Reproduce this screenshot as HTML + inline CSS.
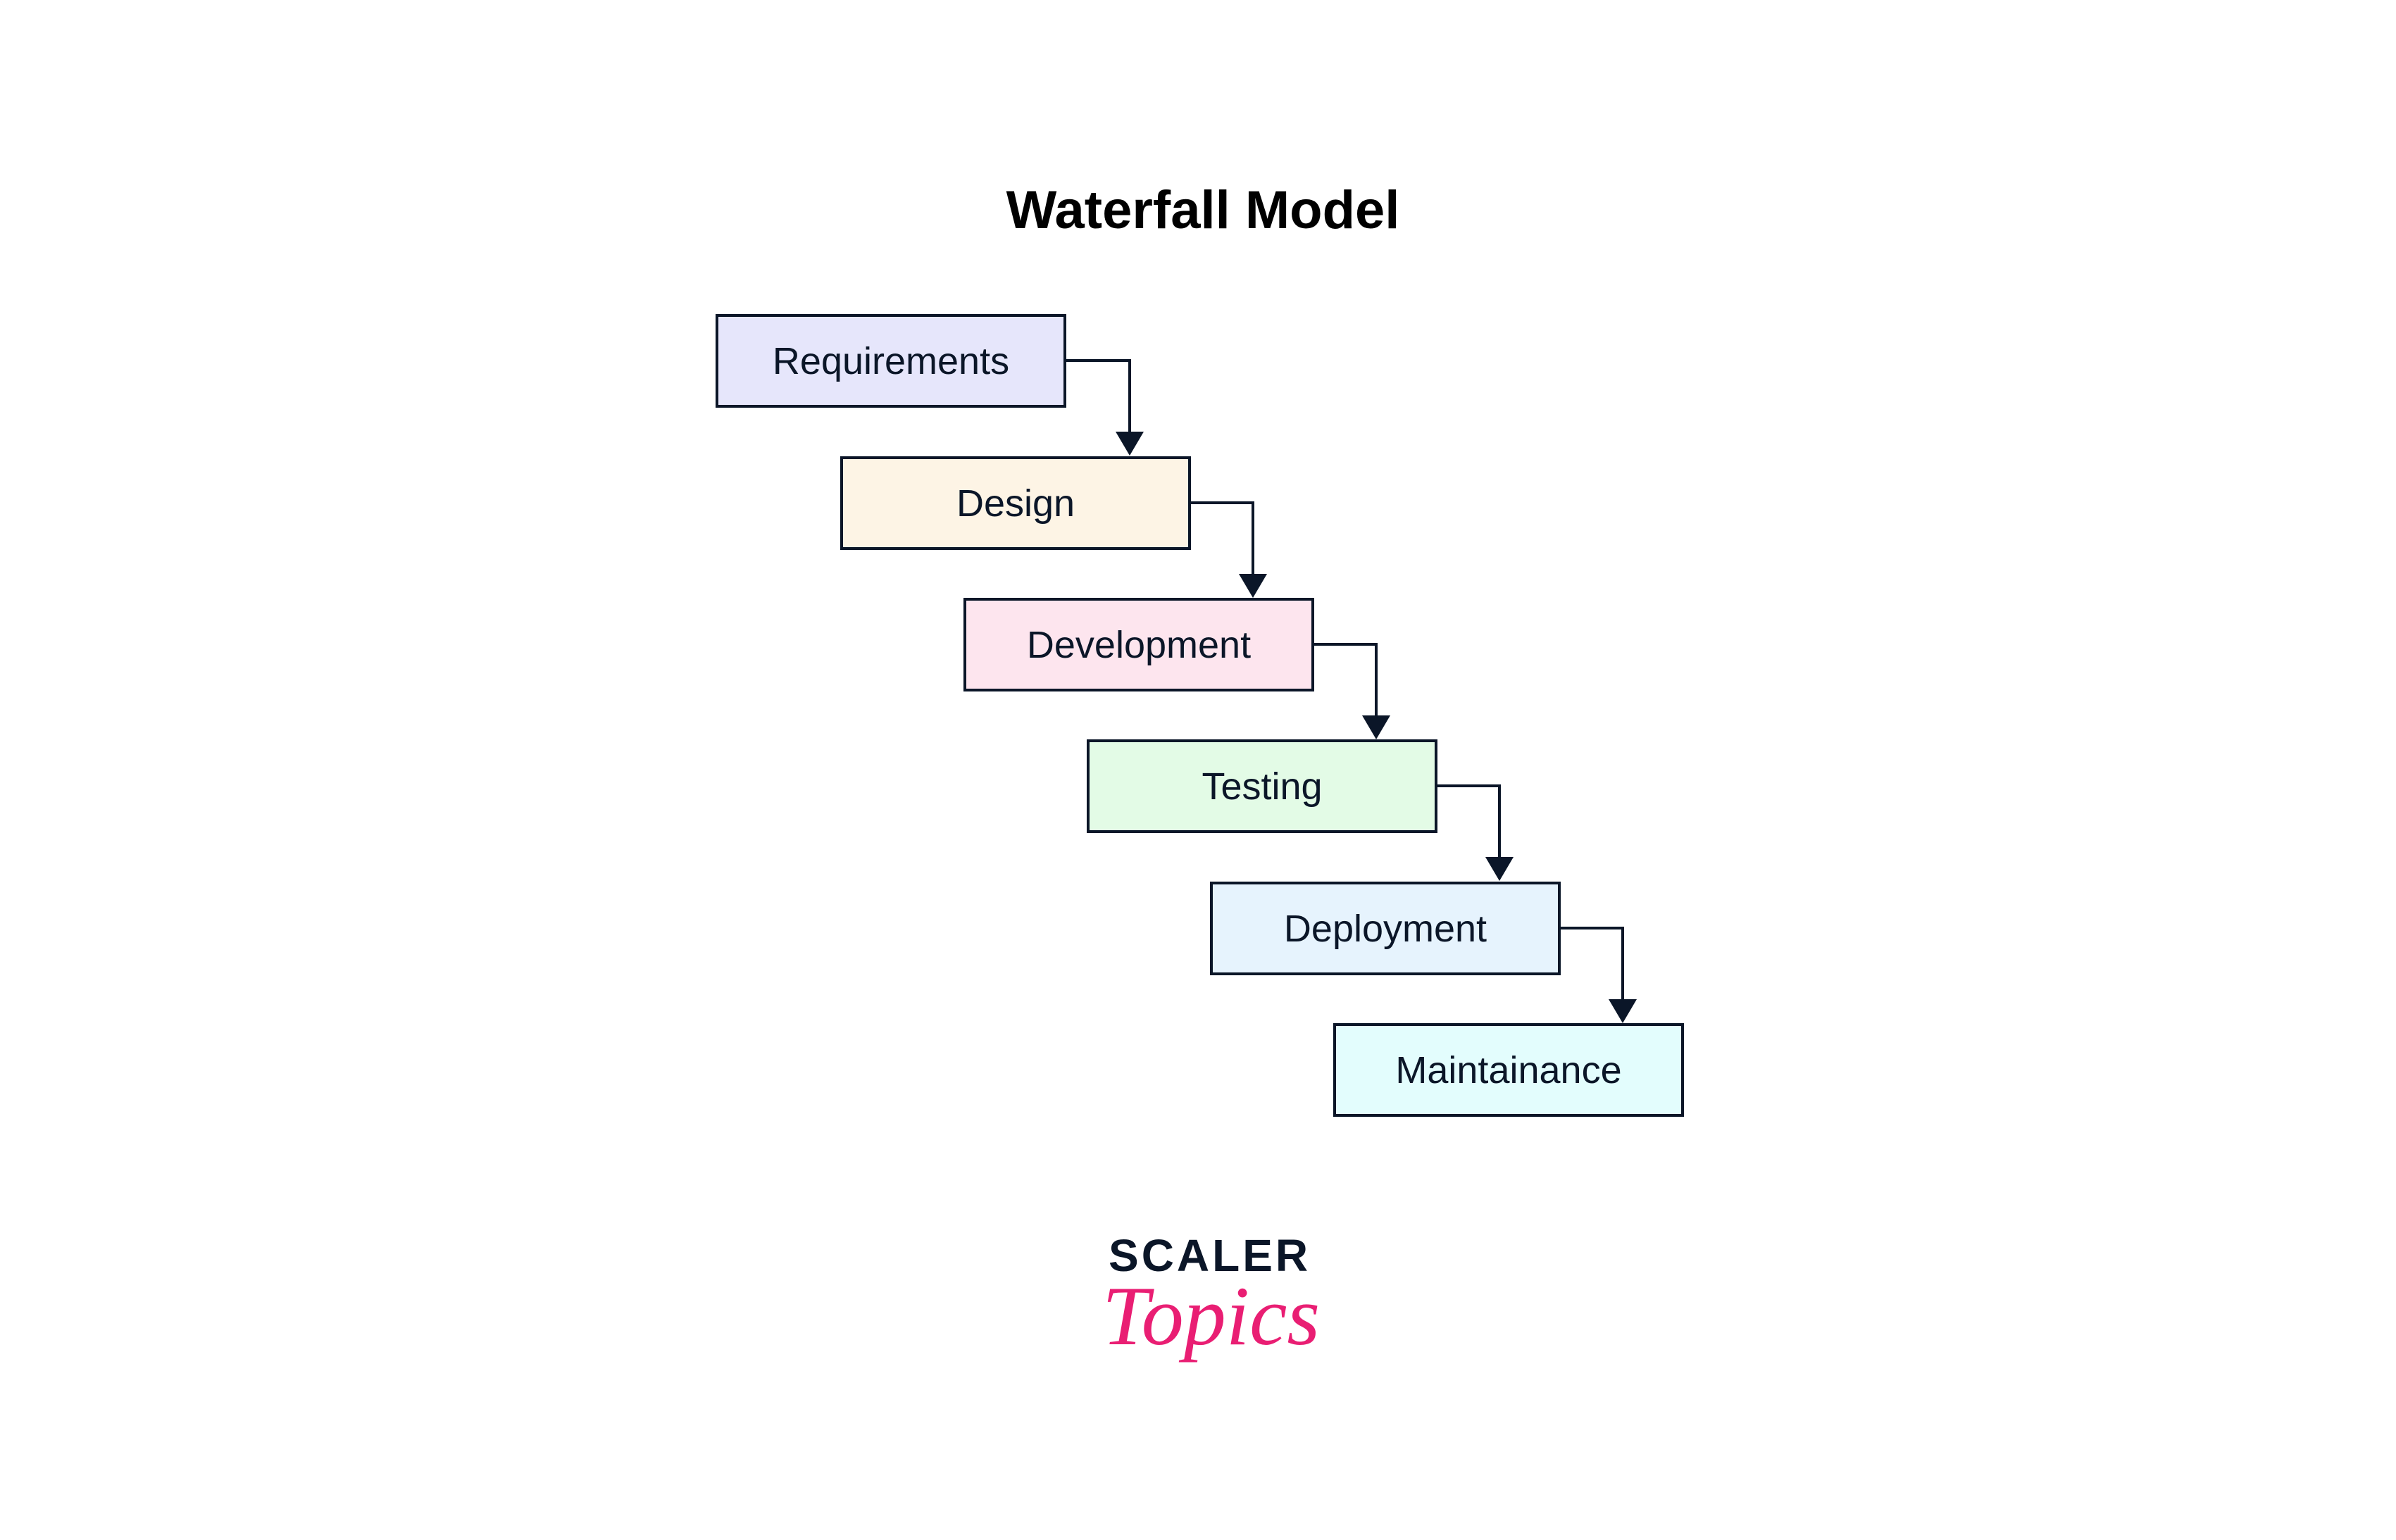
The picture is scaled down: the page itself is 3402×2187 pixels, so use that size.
<!DOCTYPE html>
<html><head><style>
body{margin:0;width:3402px;height:2187px;background:#fff;position:relative;overflow:hidden;font-family:"Liberation Sans",sans-serif;}
.b{position:absolute;width:490px;height:125px;border:4px solid #0b1628;display:flex;align-items:center;justify-content:center;font-size:54px;color:#0b1628;}
</style></head><body>
<div style="position:absolute;left:1358px;top:255px;width:700px;text-align:center;font-weight:bold;font-size:76px;color:#000;">Waterfall Model</div>
<div class="b" style="left:1016px;top:446px;background:#e6e6fb">Requirements</div>
<div class="b" style="left:1193px;top:648px;background:#fdf4e5">Design</div>
<div class="b" style="left:1368px;top:849px;background:#fde5ee">Development</div>
<div class="b" style="left:1543px;top:1050px;background:#e3fbe6">Testing</div>
<div class="b" style="left:1718px;top:1252px;background:#e6f3fd">Deployment</div>
<div class="b" style="left:1893px;top:1453px;background:#e3fdfd">Maintainance</div>
<svg width="3402" height="2187" style="position:absolute;left:0;top:0">
<g stroke="#0b1628" stroke-width="4" fill="none">
<path d="M1514 512 H1604 V616"/><path d="M1691 714 H1779 V818"/><path d="M1866 915 H1954 V1019"/><path d="M2041 1116 H2129 V1220"/><path d="M2216 1318 H2304 V1422"/>
</g>
<g fill="#0b1628">
<path d="M1584 613 h40 l-20 34z"/><path d="M1759 815 h40 l-20 34z"/><path d="M1934 1016 h40 l-20 34z"/><path d="M2109 1217 h40 l-20 34z"/><path d="M2284 1419 h40 l-20 34z"/>
</g>
</svg>
<div style="position:absolute;left:1574px;top:1746px;font-weight:bold;font-size:64px;letter-spacing:4px;color:#0b1628;">SCALER</div>
<div style="position:absolute;left:1565px;top:1800px;font-family:'Liberation Serif',serif;font-style:italic;font-size:120px;color:#e91e73;">Topics</div>
</body></html>
